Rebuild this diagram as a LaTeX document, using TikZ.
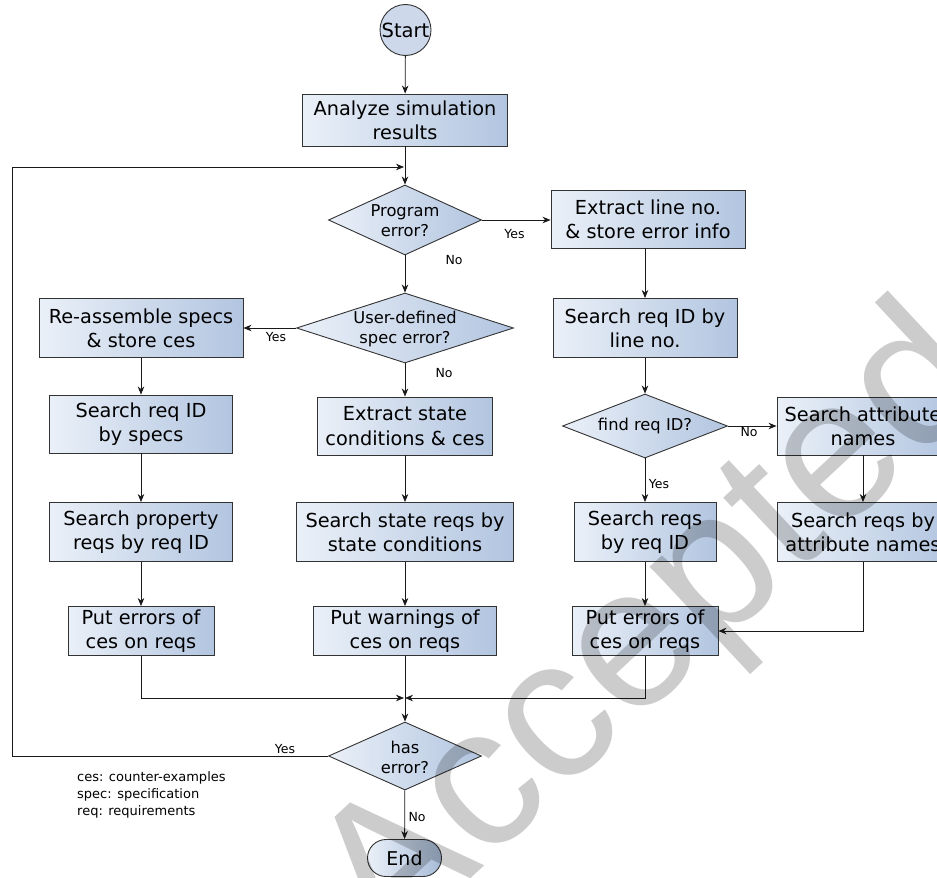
\documentclass[tikz,border=0pt]{standalone}
\usepackage{fontspec}
\setmainfont{DejaVu Sans}
\newfontfamily\wmfont{Liberation Sans}
\usetikzlibrary{shapes.geometric,shapes.misc,arrows.meta}
\definecolor{bdr}{HTML}{333333}
\definecolor{fl}{HTML}{EAF0F8}
\definecolor{fr}{HTML}{B2C5E0}
\definecolor{startc}{HTML}{CDD9EB}
\definecolor{endr}{HTML}{A8BCD8}
\tikzset{
  boxnode/.style={rectangle, draw=bdr, line width=0.9pt, left color=fl, right color=fr,
    inner sep=0pt, align=center, font=\fontsize{19.3}{24.3}\selectfont},
  decnode/.style={diamond, draw=bdr, line width=0.9pt, left color=fl, right color=fr, inner sep=0pt},
  dectext/.style={font=\fontsize{16.3}{20}\selectfont, align=center, inner sep=0pt},
  lbl/.style={font=\fontsize{12.5}{15}\selectfont, inner sep=0pt},
  legendtext/.style={font=\fontsize{13}{17.3}\selectfont, align=left, inner sep=0pt, anchor=west},
  conn/.style={draw=black!90, line width=0.8pt, -{Stealth[length=8pt,width=6.5pt,inset=2.5pt]}},
  wm/.style={font=\wmfont\fontsize{200}{200}\selectfont, text=black, text opacity=0.2, inner sep=0pt},
}
\begin{document}
\begin{tikzpicture}[x=1pt,y=-1pt]
\clip (0,0) rectangle (937,878);
\fill[white] (0,0) rectangle (937,878);

% start / end
\node[circle, draw=bdr, line width=0.9pt, fill=startc, minimum size=51pt, inner sep=0pt,
  font=\fontsize{19.5}{22}\selectfont] (start) at (405.5,30) {Start};
\node[boxnode, minimum width=205pt, minimum height=52pt] (analyze) at (405,120) {Analyze simulation\\results};

% decisions
\node[decnode, minimum width=153pt, minimum height=70pt] (prog) at (405,220) {};
\node[dectext] (progt) at (405,221) {Program\\error?};
\node[decnode, minimum width=217pt, minimum height=70pt] (user) at (405,328) {};
\node[dectext] (usert) at (405,329) {User-defined\\spec error?};
\node[decnode, minimum width=165pt, minimum height=64pt] (find) at (645,426) {};
\node[dectext] (findt) at (645,426) {find req ID?};
\node[decnode, minimum width=153pt, minimum height=68pt] (haserr) at (405,756) {};
\node[dectext] (haserrt) at (405,757) {has\\error?};

% right column
\node[boxnode, minimum width=194pt, minimum height=58pt] (extline) at (648,219) {Extract line no.\\\& store error info};
\node[boxnode, minimum width=184pt, minimum height=59pt] (searchline) at (645,328) {Search req ID by\\line no.};
\node[boxnode, minimum width=142pt, minimum height=59pt] (searchreqid) at (645,532) {Search reqs\\by req ID};
\node[boxnode, minimum width=146pt, minimum height=49pt] (puterrR) at (645,631) {Put errors of\\ces on reqs};
\node[boxnode, minimum width=172pt, minimum height=58pt] (sattr) at (863,426) {Search attribute\\names};
\node[boxnode, minimum width=172pt, minimum height=59pt] (sattrn) at (863,532) {Search reqs by\\attribute names};

% left column
\node[boxnode, minimum width=204pt, minimum height=59pt] (reass) at (141,328) {Re-assemble specs\\\& store ces};
\node[boxnode, minimum width=183pt, minimum height=58pt] (sspecs) at (141,424) {Search req ID\\by specs};
\node[boxnode, minimum width=183pt, minimum height=59pt] (sprop) at (141,532) {Search property\\reqs by req ID};
\node[boxnode, minimum width=146pt, minimum height=49pt] (puterrL) at (141,631) {Put errors of\\ces on reqs};

% middle column
\node[boxnode, minimum width=175pt, minimum height=58pt] (exstate) at (405,426) {Extract state\\conditions \& ces};
\node[boxnode, minimum width=217pt, minimum height=59pt] (sstate) at (405,532) {Search state reqs by\\state conditions};
\node[boxnode, minimum width=183pt, minimum height=49pt] (putwarn) at (405,631) {Put warnings of\\ces on reqs};

\node[rounded rectangle, draw=bdr, line width=0.9pt, left color=fl, right color=endr,
  minimum width=74pt, minimum height=37pt, inner sep=0pt, font=\fontsize{19}{22}\selectfont] (end) at (404.5,858) {End};

% coordinates
\coordinate (m) at (405,698);
\coordinate (lp1) at (12,756);
\coordinate (lp2) at (12,167);
\coordinate (lp3) at (405,167);

% connectors
\draw[conn] (start) -- (analyze);
\draw[conn] (analyze) -- (prog);
\draw[conn] (prog.east) -- (extline.west |- prog.east);
\draw[conn] (prog) -- (user);
\draw[conn] (extline.south -| searchline.north) -- (searchline.north);
\draw[conn] (user.west) -- (reass.east);
\draw[conn] (user) -- (exstate);
\draw[conn] (searchline) -- (find);
\draw[conn] (find.east) -- (sattr.west);
\draw[conn] (find) -- (searchreqid);
\draw[conn] (reass) -- (sspecs);
\draw[conn] (sspecs) -- (sprop);
\draw[conn] (sprop) -- (puterrL);
\draw[conn] (exstate) -- (sstate);
\draw[conn] (sstate) -- (putwarn);
\draw[conn] (sattr) -- (sattrn);
\draw[conn] (searchreqid) -- (puterrR);
\draw[conn] (sattrn.south) |- (puterrR.east);
\draw[conn, shorten >=1pt] (puterrL.south) |- (m);
\draw[conn] (puterrR.south) |- (m);
\draw[conn] (putwarn) -- (haserr);
\draw[conn] (haserr) -- (end);
\draw[conn, shorten >=1pt] (haserr.west) -- (lp1) -- (lp2) -- (lp3);

% labels
\node[lbl] (yes1) at (514.5,234) {Yes};
\node[lbl] (no1) at (454,260) {No};
\node[lbl] (yes2) at (276,337) {Yes};
\node[lbl] (no2) at (444,373) {No};
\node[lbl] (no3) at (749,432) {No};
\node[lbl] (yes3) at (659,484) {Yes};
\node[lbl] (yes4) at (285,749) {Yes};
\node[lbl] (no4) at (417,817) {No};

\node[legendtext] (legend) at (77,795) {ces: counter-examples\\spec: specification\\req: requirements};

% watermark
\node[wm, anchor=base, rotate=43] (wmark) at (692,672) {Accepted};
\end{tikzpicture}
\end{document}
